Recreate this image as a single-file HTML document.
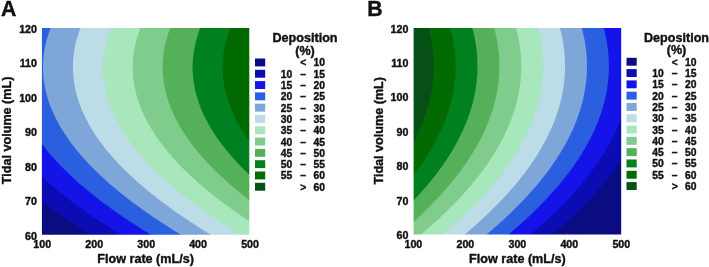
<!DOCTYPE html>
<html><head><meta charset="utf-8"><title>Deposition contour plots</title>
<style>
html,body{margin:0;padding:0;background:#fff;}
body{width:709px;height:267px;overflow:hidden;font-family:"Liberation Sans",sans-serif;}
svg{display:block;will-change:transform;opacity:0.999;}
</style></head><body>
<svg width="709" height="267" viewBox="0 0 709 267" font-family="'Liberation Sans', sans-serif" font-weight="bold" fill="#111">
<rect width="709" height="267" fill="#fff"/>
<g>
<rect x="39.9" y="26.0" width="211.4" height="210.7" fill="#0b0b82"/>
<polygon points="38.9,27.0 38.9,29.6 38.9,32.3 38.9,34.9 38.9,37.6 38.9,40.2 38.9,42.9 38.9,45.5 38.9,48.1 38.9,50.8 38.9,53.4 38.9,56.1 38.9,58.7 38.9,61.3 38.9,64.0 38.9,66.6 38.9,69.3 38.9,71.9 38.9,74.6 38.9,77.2 38.9,79.8 38.9,82.5 38.9,85.1 38.9,87.8 38.9,90.4 38.9,93.0 38.9,95.7 38.9,98.3 38.9,101.0 38.9,103.6 38.9,106.3 38.9,108.9 38.9,111.5 38.9,114.2 38.9,116.8 38.9,119.5 38.9,122.1 38.9,124.7 38.9,127.4 38.9,130.0 38.9,132.7 38.9,135.3 38.9,138.0 38.9,140.6 38.9,143.2 38.9,145.9 38.9,148.5 38.9,151.2 38.9,153.8 38.9,156.4 38.9,159.1 38.9,161.7 38.9,164.4 38.9,167.0 38.9,169.7 38.9,172.3 38.9,174.9 38.9,177.6 38.9,180.2 38.9,182.9 38.9,185.5 38.9,188.1 38.9,190.8 38.9,193.4 38.9,196.1 38.9,198.7 41.5,201.4 45.1,204.0 48.6,206.6 52.3,209.3 56.0,211.9 59.8,214.6 63.7,217.2 67.6,219.8 71.6,222.5 75.7,225.1 79.8,227.8 84.0,230.4 88.3,233.1 92.6,235.7 299.3,235.7 299.3,27.0" fill="#0c0cb4"/>
<polygon points="38.9,27.0 38.9,29.6 38.9,32.3 38.9,34.9 38.9,37.6 38.9,40.2 38.9,42.9 38.9,45.5 38.9,48.1 38.9,50.8 38.9,53.4 38.9,56.1 38.9,58.7 38.9,61.3 38.9,64.0 38.9,66.6 38.9,69.3 38.9,71.9 38.9,74.6 38.9,77.2 38.9,79.8 38.9,82.5 38.9,85.1 38.9,87.8 38.9,90.4 38.9,93.0 38.9,95.7 38.9,98.3 38.9,101.0 38.9,103.6 38.9,106.3 38.9,108.9 38.9,111.5 38.9,114.2 38.9,116.8 38.9,119.5 38.9,122.1 38.9,124.7 38.9,127.4 38.9,130.0 38.9,132.7 38.9,135.3 38.9,138.0 38.9,140.6 38.9,143.2 38.9,145.9 38.9,148.5 38.9,151.2 38.9,153.8 38.9,156.4 38.9,159.1 38.9,161.7 38.9,164.4 38.9,167.0 38.9,169.7 38.9,172.3 40.1,174.9 42.9,177.6 45.8,180.2 48.8,182.9 51.8,185.5 54.9,188.1 58.1,190.8 61.3,193.4 64.6,196.1 68.0,198.7 71.5,201.4 75.0,204.0 78.6,206.6 82.2,209.3 86.0,211.9 89.7,214.6 93.6,217.2 97.5,219.8 101.5,222.5 105.6,225.1 109.7,227.8 113.9,230.4 118.2,233.1 122.5,235.7 299.3,235.7 299.3,27.0" fill="#1414e8"/>
<polygon points="38.9,27.0 38.9,29.6 38.9,32.3 38.9,34.9 38.9,37.6 38.9,40.2 38.9,42.9 38.9,45.5 38.9,48.1 38.9,50.8 38.9,53.4 38.9,56.1 38.9,58.7 38.9,61.3 38.9,64.0 38.9,66.6 38.9,69.3 38.9,71.9 38.9,74.6 38.9,77.2 38.9,79.8 38.9,82.5 38.9,85.1 38.9,87.8 38.9,90.4 38.9,93.0 38.9,95.7 38.9,98.3 38.9,101.0 38.9,103.6 38.9,106.3 38.9,108.9 38.9,111.5 38.9,114.2 38.9,116.8 38.9,119.5 38.9,122.1 38.9,124.7 38.9,127.4 38.9,130.0 38.9,132.7 38.9,135.3 38.9,138.0 39.5,140.6 41.4,143.2 43.4,145.9 45.5,148.5 47.6,151.2 49.8,153.8 52.1,156.4 54.5,159.1 56.9,161.7 59.4,164.4 61.9,167.0 64.6,169.7 67.2,172.3 70.0,174.9 72.8,177.6 75.7,180.2 78.7,182.9 81.7,185.5 84.8,188.1 88.0,190.8 91.3,193.4 94.6,196.1 98.0,198.7 101.4,201.4 104.9,204.0 108.5,206.6 112.2,209.3 115.9,211.9 119.7,214.6 123.5,217.2 127.5,219.8 131.5,222.5 135.5,225.1 139.7,227.8 143.9,230.4 148.1,233.1 152.5,235.7 299.3,235.7 299.3,27.0" fill="#2a60e0"/>
<polygon points="51.0,27.0 49.9,29.6 49.0,32.3 48.1,34.9 47.3,37.6 46.6,40.2 45.9,42.9 45.3,45.5 44.8,48.1 44.3,50.8 43.9,53.4 43.6,56.1 43.3,58.7 43.1,61.3 43.0,64.0 43.0,66.6 43.0,69.3 43.1,71.9 43.2,74.6 43.5,77.2 43.7,79.8 44.1,82.5 44.5,85.1 45.0,87.8 45.6,90.4 46.2,93.0 46.9,95.7 47.7,98.3 48.5,101.0 49.5,103.6 50.4,106.3 51.5,108.9 52.6,111.5 53.8,114.2 55.0,116.8 56.4,119.5 57.7,122.1 59.2,124.7 60.7,127.4 62.3,130.0 64.0,132.7 65.7,135.3 67.5,138.0 69.4,140.6 71.3,143.2 73.3,145.9 75.4,148.5 77.6,151.2 79.8,153.8 82.0,156.4 84.4,159.1 86.8,161.7 89.3,164.4 91.9,167.0 94.5,169.7 97.2,172.3 99.9,174.9 102.8,177.6 105.7,180.2 108.6,182.9 111.7,185.5 114.8,188.1 118.0,190.8 121.2,193.4 124.5,196.1 127.9,198.7 131.3,201.4 134.8,204.0 138.4,206.6 142.1,209.3 145.8,211.9 149.6,214.6 153.5,217.2 157.4,219.8 161.4,222.5 165.5,225.1 169.6,227.8 173.8,230.4 178.1,233.1 182.4,235.7 299.3,235.7 299.3,27.0" fill="#7ea6d8"/>
<polygon points="80.9,27.0 79.9,29.6 78.9,32.3 78.1,34.9 77.3,37.6 76.5,40.2 75.8,42.9 75.2,45.5 74.7,48.1 74.2,50.8 73.9,53.4 73.5,56.1 73.3,58.7 73.1,61.3 73.0,64.0 72.9,66.6 72.9,69.3 73.0,71.9 73.2,74.6 73.4,77.2 73.7,79.8 74.0,82.5 74.5,85.1 75.0,87.8 75.5,90.4 76.2,93.0 76.9,95.7 77.6,98.3 78.5,101.0 79.4,103.6 80.4,106.3 81.4,108.9 82.5,111.5 83.7,114.2 85.0,116.8 86.3,119.5 87.7,122.1 89.1,124.7 90.7,127.4 92.2,130.0 93.9,132.7 95.6,135.3 97.4,138.0 99.3,140.6 101.3,143.2 103.3,145.9 105.3,148.5 107.5,151.2 109.7,153.8 112.0,156.4 114.3,159.1 116.7,161.7 119.2,164.4 121.8,167.0 124.4,169.7 127.1,172.3 129.9,174.9 132.7,177.6 135.6,180.2 138.6,182.9 141.6,185.5 144.7,188.1 147.9,190.8 151.1,193.4 154.4,196.1 157.8,198.7 161.3,201.4 164.8,204.0 168.4,206.6 172.0,209.3 175.7,211.9 179.5,214.6 183.4,217.2 187.3,219.8 191.3,222.5 195.4,225.1 199.5,227.8 203.7,230.4 208.0,233.1 212.3,235.7 299.3,235.7 299.3,27.0" fill="#bcdce8"/>
<polygon points="110.8,27.0 109.8,29.6 108.9,32.3 108.0,34.9 107.2,37.6 106.4,40.2 105.8,42.9 105.2,45.5 104.6,48.1 104.2,50.8 103.8,53.4 103.5,56.1 103.2,58.7 103.0,61.3 102.9,64.0 102.8,66.6 102.9,69.3 102.9,71.9 103.1,74.6 103.3,77.2 103.6,79.8 104.0,82.5 104.4,85.1 104.9,87.8 105.5,90.4 106.1,93.0 106.8,95.7 107.6,98.3 108.4,101.0 109.3,103.6 110.3,106.3 111.3,108.9 112.5,111.5 113.6,114.2 114.9,116.8 116.2,119.5 117.6,122.1 119.1,124.7 120.6,127.4 122.2,130.0 123.8,132.7 125.6,135.3 127.4,138.0 129.2,140.6 131.2,143.2 133.2,145.9 135.3,148.5 137.4,151.2 139.6,153.8 141.9,156.4 144.3,159.1 146.7,161.7 149.2,164.4 151.7,167.0 154.3,169.7 157.0,172.3 159.8,174.9 162.6,177.6 165.5,180.2 168.5,182.9 171.5,185.5 174.6,188.1 177.8,190.8 181.1,193.4 184.4,196.1 187.7,198.7 191.2,201.4 194.7,204.0 198.3,206.6 201.9,209.3 205.7,211.9 209.5,214.6 213.3,217.2 217.3,219.8 221.2,222.5 225.3,225.1 229.4,227.8 233.7,230.4 237.9,233.1 242.3,235.7 299.3,235.7 299.3,27.0" fill="#a8e6bc"/>
<polygon points="140.8,27.0 139.7,29.6 138.8,32.3 137.9,34.9 137.1,37.6 136.4,40.2 135.7,42.9 135.1,45.5 134.6,48.1 134.1,50.8 133.7,53.4 133.4,56.1 133.1,58.7 132.9,61.3 132.8,64.0 132.8,66.6 132.8,69.3 132.9,71.9 133.0,74.6 133.2,77.2 133.5,79.8 133.9,82.5 134.3,85.1 134.8,87.8 135.4,90.4 136.0,93.0 136.7,95.7 137.5,98.3 138.3,101.0 139.2,103.6 140.2,106.3 141.3,108.9 142.4,111.5 143.6,114.2 144.8,116.8 146.1,119.5 147.5,122.1 149.0,124.7 150.5,127.4 152.1,130.0 153.8,132.7 155.5,135.3 157.3,138.0 159.2,140.6 161.1,143.2 163.1,145.9 165.2,148.5 167.3,151.2 169.6,153.8 171.8,156.4 174.2,159.1 176.6,161.7 179.1,164.4 181.6,167.0 184.3,169.7 187.0,172.3 189.7,174.9 192.6,177.6 195.5,180.2 198.4,182.9 201.5,185.5 204.6,188.1 207.7,190.8 211.0,193.4 214.3,196.1 217.7,198.7 221.1,201.4 224.6,204.0 228.2,206.6 231.9,209.3 235.6,211.9 239.4,214.6 243.3,217.2 247.2,219.8 251.2,222.5 255.2,225.1 259.4,227.8 263.6,230.4 267.9,233.1 272.2,235.7 299.3,235.7 299.3,27.0" fill="#80cc8c"/>
<polygon points="170.7,27.0 169.7,29.6 168.7,32.3 167.9,34.9 167.0,37.6 166.3,40.2 165.6,42.9 165.0,45.5 164.5,48.1 164.0,50.8 163.6,53.4 163.3,56.1 163.1,58.7 162.9,61.3 162.7,64.0 162.7,66.6 162.7,69.3 162.8,71.9 163.0,74.6 163.2,77.2 163.5,79.8 163.8,82.5 164.3,85.1 164.8,87.8 165.3,90.4 166.0,93.0 166.7,95.7 167.4,98.3 168.3,101.0 169.2,103.6 170.2,106.3 171.2,108.9 172.3,111.5 173.5,114.2 174.8,116.8 176.1,119.5 177.5,122.1 178.9,124.7 180.4,127.4 182.0,130.0 183.7,132.7 185.4,135.3 187.2,138.0 189.1,140.6 191.0,143.2 193.1,145.9 195.1,148.5 197.3,151.2 199.5,153.8 201.8,156.4 204.1,159.1 206.5,161.7 209.0,164.4 211.6,167.0 214.2,169.7 216.9,172.3 219.7,174.9 222.5,177.6 225.4,180.2 228.4,182.9 231.4,185.5 234.5,188.1 237.7,190.8 240.9,193.4 244.2,196.1 247.6,198.7 251.1,201.4 254.6,204.0 258.2,206.6 261.8,209.3 265.5,211.9 269.3,214.6 273.2,217.2 277.1,219.8 281.1,222.5 285.2,225.1 289.3,227.8 289.3,230.4 289.3,233.1 289.3,235.7 299.3,235.7 299.3,27.0" fill="#55b05a"/>
<polygon points="200.6,27.0 199.6,29.6 198.7,32.3 197.8,34.9 197.0,37.6 196.2,40.2 195.6,42.9 195.0,45.5 194.4,48.1 194.0,50.8 193.6,53.4 193.2,56.1 193.0,58.7 192.8,61.3 192.7,64.0 192.6,66.6 192.6,69.3 192.7,71.9 192.9,74.6 193.1,77.2 193.4,79.8 193.8,82.5 194.2,85.1 194.7,87.8 195.2,90.4 195.9,93.0 196.6,95.7 197.4,98.3 198.2,101.0 199.1,103.6 200.1,106.3 201.1,108.9 202.2,111.5 203.4,114.2 204.7,116.8 206.0,119.5 207.4,122.1 208.8,124.7 210.4,127.4 212.0,130.0 213.6,132.7 215.4,135.3 217.2,138.0 219.0,140.6 221.0,143.2 223.0,145.9 225.1,148.5 227.2,151.2 229.4,153.8 231.7,156.4 234.0,159.1 236.5,161.7 239.0,164.4 241.5,167.0 244.1,169.7 246.8,172.3 249.6,174.9 252.4,177.6 255.3,180.2 258.3,182.9 261.3,185.5 264.4,188.1 267.6,190.8 270.8,193.4 274.2,196.1 277.5,198.7 281.0,201.4 284.5,204.0 288.1,206.6 289.3,209.3 289.3,211.9 289.3,214.6 289.3,217.2 289.3,219.8 289.3,222.5 289.3,225.1 289.3,227.8 289.3,230.4 289.3,233.1 289.3,235.7 299.3,235.7 299.3,27.0" fill="#008020"/>
<polygon points="230.5,27.0 229.5,29.6 228.6,32.3 227.7,34.9 226.9,37.6 226.2,40.2 225.5,42.9 224.9,45.5 224.4,48.1 223.9,50.8 223.5,53.4 223.2,56.1 222.9,58.7 222.7,61.3 222.6,64.0 222.6,66.6 222.6,69.3 222.7,71.9 222.8,74.6 223.0,77.2 223.3,79.8 223.7,82.5 224.1,85.1 224.6,87.8 225.2,90.4 225.8,93.0 226.5,95.7 227.3,98.3 228.1,101.0 229.0,103.6 230.0,106.3 231.1,108.9 232.2,111.5 233.4,114.2 234.6,116.8 235.9,119.5 237.3,122.1 238.8,124.7 240.3,127.4 241.9,130.0 243.6,132.7 245.3,135.3 247.1,138.0 249.0,140.6 250.9,143.2 252.9,145.9 255.0,148.5 257.1,151.2 259.3,153.8 261.6,156.4 264.0,159.1 266.4,161.7 268.9,164.4 271.4,167.0 274.1,169.7 276.8,172.3 279.5,174.9 282.3,177.6 285.2,180.2 288.2,182.9 289.3,185.5 289.3,188.1 289.3,190.8 289.3,193.4 289.3,196.1 289.3,198.7 289.3,201.4 289.3,204.0 289.3,206.6 289.3,209.3 289.3,211.9 289.3,214.6 289.3,217.2 289.3,219.8 289.3,222.5 289.3,225.1 289.3,227.8 289.3,230.4 289.3,233.1 289.3,235.7 299.3,235.7 299.3,27.0" fill="#006a00"/>
<polygon points="260.5,27.0 259.5,29.6 258.5,32.3 257.6,34.9 256.8,37.6 256.1,40.2 255.4,42.9 254.8,45.5 254.3,48.1 253.8,50.8 253.4,53.4 253.1,56.1 252.8,58.7 252.7,61.3 252.5,64.0 252.5,66.6 252.5,69.3 252.6,71.9 252.7,74.6 253.0,77.2 253.3,79.8 253.6,82.5 254.0,85.1 254.5,87.8 255.1,90.4 255.7,93.0 256.4,95.7 257.2,98.3 258.1,101.0 259.0,103.6 259.9,106.3 261.0,108.9 262.1,111.5 263.3,114.2 264.5,116.8 265.9,119.5 267.3,122.1 268.7,124.7 270.2,127.4 271.8,130.0 273.5,132.7 275.2,135.3 277.0,138.0 278.9,140.6 280.8,143.2 282.8,145.9 284.9,148.5 287.1,151.2 289.3,153.8 289.3,156.4 289.3,159.1 289.3,161.7 289.3,164.4 289.3,167.0 289.3,169.7 289.3,172.3 289.3,174.9 289.3,177.6 289.3,180.2 289.3,182.9 289.3,185.5 289.3,188.1 289.3,190.8 289.3,193.4 289.3,196.1 289.3,198.7 289.3,201.4 289.3,204.0 289.3,206.6 289.3,209.3 289.3,211.9 289.3,214.6 289.3,217.2 289.3,219.8 289.3,222.5 289.3,225.1 289.3,227.8 289.3,230.4 289.3,233.1 289.3,235.7 299.3,235.7 299.3,27.0" fill="#065018"/>
<path fill="#fff" fill-rule="evenodd" d="M29.9 20.0H309.3V242.7H29.9Z M41.90 28.00H249.30V234.70H41.90Z"/>
</g>
<g>
<rect x="411.6" y="26.0" width="211.6" height="210.5" fill="#065018"/>
<polygon points="428.2,27.0 428.9,29.6 429.6,32.3 430.2,34.9 430.8,37.6 431.3,40.2 431.7,42.8 432.1,45.5 432.5,48.1 432.8,50.8 433.1,53.4 433.3,56.0 433.5,58.7 433.6,61.3 433.6,63.9 433.7,66.6 433.6,69.2 433.6,71.9 433.4,74.5 433.2,77.1 433.0,79.8 432.7,82.4 432.4,85.1 432.0,87.7 431.6,90.3 431.1,93.0 430.6,95.6 430.0,98.3 429.4,100.9 428.7,103.5 428.0,106.2 427.2,108.8 426.4,111.5 425.5,114.1 424.6,116.7 423.6,119.4 422.6,122.0 421.5,124.7 420.4,127.3 419.3,129.9 418.0,132.6 416.8,135.2 415.5,137.8 414.1,140.5 412.7,143.1 411.2,145.8 410.6,148.4 410.6,151.0 410.6,153.7 410.6,156.3 410.6,159.0 410.6,161.6 410.6,164.2 410.6,166.9 410.6,169.5 410.6,172.2 410.6,174.8 410.6,177.4 410.6,180.1 410.6,182.7 410.6,185.4 410.6,188.0 410.6,190.6 410.6,193.3 410.6,195.9 410.6,198.6 410.6,201.2 410.6,203.8 410.6,206.5 410.6,209.1 410.6,211.7 410.6,214.4 410.6,217.0 410.6,219.7 410.6,222.3 410.6,224.9 410.6,227.6 410.6,230.2 410.6,232.9 410.6,235.5 671.2,235.5 671.2,27.0" fill="#006a00"/>
<polygon points="450.1,27.0 450.8,29.6 451.5,32.3 452.1,34.9 452.7,37.6 453.2,40.2 453.6,42.8 454.0,45.5 454.4,48.1 454.7,50.8 455.0,53.4 455.2,56.0 455.4,58.7 455.5,61.3 455.5,63.9 455.6,66.6 455.5,69.2 455.5,71.9 455.3,74.5 455.1,77.1 454.9,79.8 454.6,82.4 454.3,85.1 453.9,87.7 453.5,90.3 453.0,93.0 452.5,95.6 451.9,98.3 451.3,100.9 450.6,103.5 449.9,106.2 449.1,108.8 448.3,111.5 447.4,114.1 446.5,116.7 445.5,119.4 444.5,122.0 443.4,124.7 442.3,127.3 441.2,129.9 439.9,132.6 438.7,135.2 437.4,137.8 436.0,140.5 434.6,143.1 433.1,145.8 431.6,148.4 430.0,151.0 428.4,153.7 426.8,156.3 425.1,159.0 423.3,161.6 421.5,164.2 419.6,166.9 417.7,169.5 415.8,172.2 413.8,174.8 411.7,177.4 410.6,180.1 410.6,182.7 410.6,185.4 410.6,188.0 410.6,190.6 410.6,193.3 410.6,195.9 410.6,198.6 410.6,201.2 410.6,203.8 410.6,206.5 410.6,209.1 410.6,211.7 410.6,214.4 410.6,217.0 410.6,219.7 410.6,222.3 410.6,224.9 410.6,227.6 410.6,230.2 410.6,232.9 410.6,235.5 671.2,235.5 671.2,27.0" fill="#008020"/>
<polygon points="472.0,27.0 472.7,29.6 473.4,32.3 474.0,34.9 474.6,37.6 475.1,40.2 475.5,42.8 475.9,45.5 476.3,48.1 476.6,50.8 476.9,53.4 477.1,56.0 477.3,58.7 477.4,61.3 477.4,63.9 477.5,66.6 477.4,69.2 477.4,71.9 477.2,74.5 477.0,77.1 476.8,79.8 476.5,82.4 476.2,85.1 475.8,87.7 475.4,90.3 474.9,93.0 474.4,95.6 473.8,98.3 473.2,100.9 472.5,103.5 471.8,106.2 471.0,108.8 470.2,111.5 469.3,114.1 468.4,116.7 467.4,119.4 466.4,122.0 465.3,124.7 464.2,127.3 463.1,129.9 461.8,132.6 460.6,135.2 459.3,137.8 457.9,140.5 456.5,143.1 455.0,145.8 453.5,148.4 451.9,151.0 450.3,153.7 448.7,156.3 447.0,159.0 445.2,161.6 443.4,164.2 441.5,166.9 439.6,169.5 437.7,172.2 435.7,174.8 433.6,177.4 431.5,180.1 429.3,182.7 427.1,185.4 424.9,188.0 422.6,190.6 420.2,193.3 417.8,195.9 415.4,198.6 412.9,201.2 410.6,203.8 410.6,206.5 410.6,209.1 410.6,211.7 410.6,214.4 410.6,217.0 410.6,219.7 410.6,222.3 410.6,224.9 410.6,227.6 410.6,230.2 410.6,232.9 410.6,235.5 671.2,235.5 671.2,27.0" fill="#55b05a"/>
<polygon points="493.9,27.0 494.6,29.6 495.3,32.3 495.9,34.9 496.5,37.6 497.0,40.2 497.4,42.8 497.8,45.5 498.2,48.1 498.5,50.8 498.8,53.4 499.0,56.0 499.2,58.7 499.3,61.3 499.3,63.9 499.4,66.6 499.3,69.2 499.3,71.9 499.1,74.5 498.9,77.1 498.7,79.8 498.4,82.4 498.1,85.1 497.7,87.7 497.3,90.3 496.8,93.0 496.3,95.6 495.7,98.3 495.1,100.9 494.4,103.5 493.7,106.2 492.9,108.8 492.1,111.5 491.2,114.1 490.3,116.7 489.3,119.4 488.3,122.0 487.2,124.7 486.1,127.3 485.0,129.9 483.7,132.6 482.5,135.2 481.2,137.8 479.8,140.5 478.4,143.1 476.9,145.8 475.4,148.4 473.8,151.0 472.2,153.7 470.6,156.3 468.9,159.0 467.1,161.6 465.3,164.2 463.4,166.9 461.5,169.5 459.6,172.2 457.6,174.8 455.5,177.4 453.4,180.1 451.2,182.7 449.0,185.4 446.8,188.0 444.5,190.6 442.1,193.3 439.7,195.9 437.3,198.6 434.8,201.2 432.2,203.8 429.6,206.5 427.0,209.1 424.3,211.7 421.5,214.4 418.7,217.0 415.9,219.7 413.0,222.3 410.6,224.9 410.6,227.6 410.6,230.2 410.6,232.9 410.6,235.5 671.2,235.5 671.2,27.0" fill="#80cc8c"/>
<polygon points="515.8,27.0 516.5,29.6 517.2,32.3 517.8,34.9 518.4,37.6 518.9,40.2 519.3,42.8 519.7,45.5 520.1,48.1 520.4,50.8 520.7,53.4 520.9,56.0 521.1,58.7 521.2,61.3 521.2,63.9 521.3,66.6 521.2,69.2 521.2,71.9 521.0,74.5 520.8,77.1 520.6,79.8 520.3,82.4 520.0,85.1 519.6,87.7 519.2,90.3 518.7,93.0 518.2,95.6 517.6,98.3 517.0,100.9 516.3,103.5 515.6,106.2 514.8,108.8 514.0,111.5 513.1,114.1 512.2,116.7 511.2,119.4 510.2,122.0 509.1,124.7 508.0,127.3 506.9,129.9 505.6,132.6 504.4,135.2 503.1,137.8 501.7,140.5 500.3,143.1 498.8,145.8 497.3,148.4 495.7,151.0 494.1,153.7 492.5,156.3 490.8,159.0 489.0,161.6 487.2,164.2 485.3,166.9 483.4,169.5 481.5,172.2 479.5,174.8 477.4,177.4 475.3,180.1 473.1,182.7 470.9,185.4 468.7,188.0 466.4,190.6 464.0,193.3 461.6,195.9 459.2,198.6 456.7,201.2 454.1,203.8 451.5,206.5 448.9,209.1 446.2,211.7 443.4,214.4 440.6,217.0 437.8,219.7 434.9,222.3 432.0,224.9 429.0,227.6 425.9,230.2 422.8,232.9 419.7,235.5 671.2,235.5 671.2,27.0" fill="#a8e6bc"/>
<polygon points="537.7,27.0 538.4,29.6 539.1,32.3 539.7,34.9 540.3,37.6 540.8,40.2 541.2,42.8 541.6,45.5 542.0,48.1 542.3,50.8 542.6,53.4 542.8,56.0 543.0,58.7 543.1,61.3 543.1,63.9 543.2,66.6 543.1,69.2 543.1,71.9 542.9,74.5 542.7,77.1 542.5,79.8 542.2,82.4 541.9,85.1 541.5,87.7 541.1,90.3 540.6,93.0 540.1,95.6 539.5,98.3 538.9,100.9 538.2,103.5 537.5,106.2 536.7,108.8 535.9,111.5 535.0,114.1 534.1,116.7 533.1,119.4 532.1,122.0 531.0,124.7 529.9,127.3 528.8,129.9 527.5,132.6 526.3,135.2 525.0,137.8 523.6,140.5 522.2,143.1 520.7,145.8 519.2,148.4 517.6,151.0 516.0,153.7 514.4,156.3 512.7,159.0 510.9,161.6 509.1,164.2 507.2,166.9 505.3,169.5 503.4,172.2 501.4,174.8 499.3,177.4 497.2,180.1 495.0,182.7 492.8,185.4 490.6,188.0 488.3,190.6 485.9,193.3 483.5,195.9 481.1,198.6 478.6,201.2 476.0,203.8 473.4,206.5 470.8,209.1 468.1,211.7 465.3,214.4 462.5,217.0 459.7,219.7 456.8,222.3 453.9,224.9 450.9,227.6 447.8,230.2 444.7,232.9 441.6,235.5 671.2,235.5 671.2,27.0" fill="#bcdce8"/>
<polygon points="559.6,27.0 560.3,29.6 561.0,32.3 561.6,34.9 562.2,37.6 562.7,40.2 563.1,42.8 563.5,45.5 563.9,48.1 564.2,50.8 564.5,53.4 564.7,56.0 564.9,58.7 565.0,61.3 565.0,63.9 565.1,66.6 565.0,69.2 565.0,71.9 564.8,74.5 564.6,77.1 564.4,79.8 564.1,82.4 563.8,85.1 563.4,87.7 563.0,90.3 562.5,93.0 562.0,95.6 561.4,98.3 560.8,100.9 560.1,103.5 559.4,106.2 558.6,108.8 557.8,111.5 556.9,114.1 556.0,116.7 555.0,119.4 554.0,122.0 552.9,124.7 551.8,127.3 550.7,129.9 549.4,132.6 548.2,135.2 546.9,137.8 545.5,140.5 544.1,143.1 542.6,145.8 541.1,148.4 539.5,151.0 537.9,153.7 536.3,156.3 534.6,159.0 532.8,161.6 531.0,164.2 529.1,166.9 527.2,169.5 525.3,172.2 523.3,174.8 521.2,177.4 519.1,180.1 516.9,182.7 514.7,185.4 512.5,188.0 510.2,190.6 507.8,193.3 505.4,195.9 503.0,198.6 500.5,201.2 497.9,203.8 495.3,206.5 492.7,209.1 490.0,211.7 487.2,214.4 484.4,217.0 481.6,219.7 478.7,222.3 475.8,224.9 472.8,227.6 469.7,230.2 466.6,232.9 463.5,235.5 671.2,235.5 671.2,27.0" fill="#7ea6d8"/>
<polygon points="581.5,27.0 582.2,29.6 582.9,32.3 583.5,34.9 584.1,37.6 584.6,40.2 585.0,42.8 585.4,45.5 585.8,48.1 586.1,50.8 586.4,53.4 586.6,56.0 586.8,58.7 586.9,61.3 586.9,63.9 587.0,66.6 586.9,69.2 586.9,71.9 586.7,74.5 586.5,77.1 586.3,79.8 586.0,82.4 585.7,85.1 585.3,87.7 584.9,90.3 584.4,93.0 583.9,95.6 583.3,98.3 582.7,100.9 582.0,103.5 581.3,106.2 580.5,108.8 579.7,111.5 578.8,114.1 577.9,116.7 576.9,119.4 575.9,122.0 574.8,124.7 573.7,127.3 572.6,129.9 571.3,132.6 570.1,135.2 568.8,137.8 567.4,140.5 566.0,143.1 564.5,145.8 563.0,148.4 561.4,151.0 559.8,153.7 558.2,156.3 556.5,159.0 554.7,161.6 552.9,164.2 551.0,166.9 549.1,169.5 547.2,172.2 545.2,174.8 543.1,177.4 541.0,180.1 538.8,182.7 536.6,185.4 534.4,188.0 532.1,190.6 529.7,193.3 527.3,195.9 524.9,198.6 522.4,201.2 519.8,203.8 517.2,206.5 514.6,209.1 511.9,211.7 509.1,214.4 506.3,217.0 503.5,219.7 500.6,222.3 497.7,224.9 494.7,227.6 491.6,230.2 488.5,232.9 485.4,235.5 671.2,235.5 671.2,27.0" fill="#2a60e0"/>
<polygon points="603.4,27.0 604.1,29.6 604.8,32.3 605.4,34.9 606.0,37.6 606.5,40.2 606.9,42.8 607.3,45.5 607.7,48.1 608.0,50.8 608.3,53.4 608.5,56.0 608.7,58.7 608.8,61.3 608.8,63.9 608.9,66.6 608.8,69.2 608.8,71.9 608.6,74.5 608.4,77.1 608.2,79.8 607.9,82.4 607.6,85.1 607.2,87.7 606.8,90.3 606.3,93.0 605.8,95.6 605.2,98.3 604.6,100.9 603.9,103.5 603.2,106.2 602.4,108.8 601.6,111.5 600.7,114.1 599.8,116.7 598.8,119.4 597.8,122.0 596.7,124.7 595.6,127.3 594.5,129.9 593.2,132.6 592.0,135.2 590.7,137.8 589.3,140.5 587.9,143.1 586.4,145.8 584.9,148.4 583.3,151.0 581.7,153.7 580.1,156.3 578.4,159.0 576.6,161.6 574.8,164.2 572.9,166.9 571.0,169.5 569.1,172.2 567.1,174.8 565.0,177.4 562.9,180.1 560.7,182.7 558.5,185.4 556.3,188.0 554.0,190.6 551.6,193.3 549.2,195.9 546.8,198.6 544.3,201.2 541.7,203.8 539.1,206.5 536.5,209.1 533.8,211.7 531.0,214.4 528.2,217.0 525.4,219.7 522.5,222.3 519.6,224.9 516.6,227.6 513.5,230.2 510.4,232.9 507.3,235.5 671.2,235.5 671.2,27.0" fill="#1414e8"/>
<polygon points="625.3,27.0 626.0,29.6 626.7,32.3 627.3,34.9 627.9,37.6 628.4,40.2 628.8,42.8 629.2,45.5 629.6,48.1 629.9,50.8 630.2,53.4 630.4,56.0 630.6,58.7 630.7,61.3 630.7,63.9 630.8,66.6 630.7,69.2 630.7,71.9 630.5,74.5 630.3,77.1 630.1,79.8 629.8,82.4 629.5,85.1 629.1,87.7 628.7,90.3 628.2,93.0 627.7,95.6 627.1,98.3 626.5,100.9 625.8,103.5 625.1,106.2 624.3,108.8 623.5,111.5 622.6,114.1 621.7,116.7 620.7,119.4 619.7,122.0 618.6,124.7 617.5,127.3 616.4,129.9 615.1,132.6 613.9,135.2 612.6,137.8 611.2,140.5 609.8,143.1 608.3,145.8 606.8,148.4 605.2,151.0 603.6,153.7 602.0,156.3 600.3,159.0 598.5,161.6 596.7,164.2 594.8,166.9 592.9,169.5 591.0,172.2 589.0,174.8 586.9,177.4 584.8,180.1 582.6,182.7 580.4,185.4 578.2,188.0 575.9,190.6 573.5,193.3 571.1,195.9 568.7,198.6 566.2,201.2 563.6,203.8 561.0,206.5 558.4,209.1 555.7,211.7 552.9,214.4 550.1,217.0 547.3,219.7 544.4,222.3 541.5,224.9 538.5,227.6 535.4,230.2 532.3,232.9 529.2,235.5 671.2,235.5 671.2,27.0" fill="#0c0cb4"/>
<polygon points="647.2,27.0 647.9,29.6 648.6,32.3 649.2,34.9 649.8,37.6 650.3,40.2 650.7,42.8 651.1,45.5 651.5,48.1 651.8,50.8 652.1,53.4 652.3,56.0 652.5,58.7 652.6,61.3 652.6,63.9 652.7,66.6 652.6,69.2 652.6,71.9 652.4,74.5 652.2,77.1 652.0,79.8 651.7,82.4 651.4,85.1 651.0,87.7 650.6,90.3 650.1,93.0 649.6,95.6 649.0,98.3 648.4,100.9 647.7,103.5 647.0,106.2 646.2,108.8 645.4,111.5 644.5,114.1 643.6,116.7 642.6,119.4 641.6,122.0 640.5,124.7 639.4,127.3 638.3,129.9 637.0,132.6 635.8,135.2 634.5,137.8 633.1,140.5 631.7,143.1 630.2,145.8 628.7,148.4 627.1,151.0 625.5,153.7 623.9,156.3 622.2,159.0 620.4,161.6 618.6,164.2 616.7,166.9 614.8,169.5 612.9,172.2 610.9,174.8 608.8,177.4 606.7,180.1 604.5,182.7 602.3,185.4 600.1,188.0 597.8,190.6 595.4,193.3 593.0,195.9 590.6,198.6 588.1,201.2 585.5,203.8 582.9,206.5 580.3,209.1 577.6,211.7 574.8,214.4 572.0,217.0 569.2,219.7 566.3,222.3 563.4,224.9 560.4,227.6 557.3,230.2 554.2,232.9 551.1,235.5 671.2,235.5 671.2,27.0" fill="#0b0b82"/>
<path fill="#fff" fill-rule="evenodd" d="M401.6 20.0H681.2V242.5H401.6Z M413.60 28.00H621.20V234.50H413.60Z"/>
</g>
<g stroke="#111" stroke-width="0.4" stroke-linejoin="round">
<text x="1.0" y="15.9" font-size="21.2" >A</text>
<text x="37.0" y="239.5" font-size="10.7" text-anchor="end">60</text>
<text x="37.0" y="205.1" font-size="10.7" text-anchor="end">70</text>
<text x="37.0" y="170.6" font-size="10.7" text-anchor="end">80</text>
<text x="37.0" y="136.2" font-size="10.7" text-anchor="end">90</text>
<text x="37.0" y="101.7" font-size="10.7" text-anchor="end">100</text>
<text x="37.0" y="67.2" font-size="10.7" text-anchor="end">110</text>
<text x="37.0" y="32.8" font-size="10.7" text-anchor="end">120</text>
<text x="42.2" y="247.8" font-size="10.7" text-anchor="middle">100</text>
<text x="94.2" y="247.8" font-size="10.7" text-anchor="middle">200</text>
<text x="146.2" y="247.8" font-size="10.7" text-anchor="middle">300</text>
<text x="198.1" y="247.8" font-size="10.7" text-anchor="middle">400</text>
<text x="250.1" y="247.8" font-size="10.7" text-anchor="middle">500</text>
<text x="145.6" y="263.4" font-size="12.6" text-anchor="middle">Flow rate (mL/s)</text>
<text transform="translate(10.5,130.4) rotate(-90)" font-size="12.6" text-anchor="middle">Tidal volume (mL)</text>
<text x="367.3" y="15.9" font-size="21.2" >B</text>
<text x="408.4" y="239.1" font-size="10.7" text-anchor="end">60</text>
<text x="408.4" y="204.7" font-size="10.7" text-anchor="end">70</text>
<text x="408.4" y="170.3" font-size="10.7" text-anchor="end">80</text>
<text x="408.4" y="135.8" font-size="10.7" text-anchor="end">90</text>
<text x="408.4" y="101.4" font-size="10.7" text-anchor="end">100</text>
<text x="408.4" y="67.0" font-size="10.7" text-anchor="end">110</text>
<text x="408.4" y="32.6" font-size="10.7" text-anchor="end">120</text>
<text x="413.4" y="247.6" font-size="10.7" text-anchor="middle">100</text>
<text x="465.4" y="247.6" font-size="10.7" text-anchor="middle">200</text>
<text x="517.4" y="247.6" font-size="10.7" text-anchor="middle">300</text>
<text x="569.3" y="247.6" font-size="10.7" text-anchor="middle">400</text>
<text x="621.3" y="247.6" font-size="10.7" text-anchor="middle">500</text>
<text x="517.4" y="263.1" font-size="12.6" text-anchor="middle">Flow rate (mL/s)</text>
<text transform="translate(382.6,130.8) rotate(-90)" font-size="12.6" text-anchor="middle">Tidal volume (mL)</text>
<text x="305.0" y="42.4" font-size="12.6" text-anchor="middle">Deposition</text>
<text x="305.0" y="54.9" font-size="12.6" text-anchor="middle">(%)</text>
<rect x="255.0" y="58.5" width="10.2" height="7.9" fill="#0b0b82" stroke="none"/>
<text x="303.2" y="66.4" font-size="10.3" text-anchor="middle"><</text>
<text x="324.9" y="66.4" font-size="10.3" text-anchor="end">10</text>
<rect x="255.0" y="69.8" width="10.2" height="7.9" fill="#0c0cb4" stroke="none"/>
<text x="292.2" y="77.7" font-size="10.3" text-anchor="end">10</text>
<text x="303.2" y="77.7" font-size="10.3" text-anchor="middle">–</text>
<text x="324.9" y="77.7" font-size="10.3" text-anchor="end">15</text>
<rect x="255.0" y="81.1" width="10.2" height="7.9" fill="#1414e8" stroke="none"/>
<text x="292.2" y="89.0" font-size="10.3" text-anchor="end">15</text>
<text x="303.2" y="89.0" font-size="10.3" text-anchor="middle">–</text>
<text x="324.9" y="89.0" font-size="10.3" text-anchor="end">20</text>
<rect x="255.0" y="92.4" width="10.2" height="7.9" fill="#2a60e0" stroke="none"/>
<text x="292.2" y="100.3" font-size="10.3" text-anchor="end">20</text>
<text x="303.2" y="100.3" font-size="10.3" text-anchor="middle">–</text>
<text x="324.9" y="100.3" font-size="10.3" text-anchor="end">25</text>
<rect x="255.0" y="103.7" width="10.2" height="7.9" fill="#7ea6d8" stroke="none"/>
<text x="292.2" y="111.6" font-size="10.3" text-anchor="end">25</text>
<text x="303.2" y="111.6" font-size="10.3" text-anchor="middle">–</text>
<text x="324.9" y="111.6" font-size="10.3" text-anchor="end">30</text>
<rect x="255.0" y="115.0" width="10.2" height="7.9" fill="#bcdce8" stroke="none"/>
<text x="292.2" y="122.9" font-size="10.3" text-anchor="end">30</text>
<text x="303.2" y="122.9" font-size="10.3" text-anchor="middle">–</text>
<text x="324.9" y="122.9" font-size="10.3" text-anchor="end">35</text>
<rect x="255.0" y="126.3" width="10.2" height="7.9" fill="#a8e6bc" stroke="none"/>
<text x="292.2" y="134.2" font-size="10.3" text-anchor="end">35</text>
<text x="303.2" y="134.2" font-size="10.3" text-anchor="middle">–</text>
<text x="324.9" y="134.2" font-size="10.3" text-anchor="end">40</text>
<rect x="255.0" y="137.6" width="10.2" height="7.9" fill="#80cc8c" stroke="none"/>
<text x="292.2" y="145.5" font-size="10.3" text-anchor="end">40</text>
<text x="303.2" y="145.5" font-size="10.3" text-anchor="middle">–</text>
<text x="324.9" y="145.5" font-size="10.3" text-anchor="end">45</text>
<rect x="255.0" y="148.9" width="10.2" height="7.9" fill="#55b05a" stroke="none"/>
<text x="292.2" y="156.8" font-size="10.3" text-anchor="end">45</text>
<text x="303.2" y="156.8" font-size="10.3" text-anchor="middle">–</text>
<text x="324.9" y="156.8" font-size="10.3" text-anchor="end">50</text>
<rect x="255.0" y="160.2" width="10.2" height="7.9" fill="#008020" stroke="none"/>
<text x="292.2" y="168.1" font-size="10.3" text-anchor="end">50</text>
<text x="303.2" y="168.1" font-size="10.3" text-anchor="middle">–</text>
<text x="324.9" y="168.1" font-size="10.3" text-anchor="end">55</text>
<rect x="255.0" y="171.5" width="10.2" height="7.9" fill="#006a00" stroke="none"/>
<text x="292.2" y="179.4" font-size="10.3" text-anchor="end">55</text>
<text x="303.2" y="179.4" font-size="10.3" text-anchor="middle">–</text>
<text x="324.9" y="179.4" font-size="10.3" text-anchor="end">60</text>
<rect x="255.0" y="182.8" width="10.2" height="7.9" fill="#065018" stroke="none"/>
<text x="303.2" y="190.7" font-size="10.3" text-anchor="middle">></text>
<text x="324.9" y="190.7" font-size="10.3" text-anchor="end">60</text>
<text x="676.5" y="41.7" font-size="12.6" text-anchor="middle">Deposition</text>
<text x="676.5" y="54.2" font-size="12.6" text-anchor="middle">(%)</text>
<rect x="626.5" y="57.8" width="10.2" height="7.9" fill="#0b0b82" stroke="none"/>
<text x="674.7" y="65.7" font-size="10.3" text-anchor="middle"><</text>
<text x="696.4" y="65.7" font-size="10.3" text-anchor="end">10</text>
<rect x="626.5" y="69.1" width="10.2" height="7.9" fill="#0c0cb4" stroke="none"/>
<text x="663.7" y="77.0" font-size="10.3" text-anchor="end">10</text>
<text x="674.7" y="77.0" font-size="10.3" text-anchor="middle">–</text>
<text x="696.4" y="77.0" font-size="10.3" text-anchor="end">15</text>
<rect x="626.5" y="80.4" width="10.2" height="7.9" fill="#1414e8" stroke="none"/>
<text x="663.7" y="88.3" font-size="10.3" text-anchor="end">15</text>
<text x="674.7" y="88.3" font-size="10.3" text-anchor="middle">–</text>
<text x="696.4" y="88.3" font-size="10.3" text-anchor="end">20</text>
<rect x="626.5" y="91.7" width="10.2" height="7.9" fill="#2a60e0" stroke="none"/>
<text x="663.7" y="99.6" font-size="10.3" text-anchor="end">20</text>
<text x="674.7" y="99.6" font-size="10.3" text-anchor="middle">–</text>
<text x="696.4" y="99.6" font-size="10.3" text-anchor="end">25</text>
<rect x="626.5" y="103.0" width="10.2" height="7.9" fill="#7ea6d8" stroke="none"/>
<text x="663.7" y="110.9" font-size="10.3" text-anchor="end">25</text>
<text x="674.7" y="110.9" font-size="10.3" text-anchor="middle">–</text>
<text x="696.4" y="110.9" font-size="10.3" text-anchor="end">30</text>
<rect x="626.5" y="114.3" width="10.2" height="7.9" fill="#bcdce8" stroke="none"/>
<text x="663.7" y="122.2" font-size="10.3" text-anchor="end">30</text>
<text x="674.7" y="122.2" font-size="10.3" text-anchor="middle">–</text>
<text x="696.4" y="122.2" font-size="10.3" text-anchor="end">35</text>
<rect x="626.5" y="125.6" width="10.2" height="7.9" fill="#a8e6bc" stroke="none"/>
<text x="663.7" y="133.5" font-size="10.3" text-anchor="end">35</text>
<text x="674.7" y="133.5" font-size="10.3" text-anchor="middle">–</text>
<text x="696.4" y="133.5" font-size="10.3" text-anchor="end">40</text>
<rect x="626.5" y="136.9" width="10.2" height="7.9" fill="#80cc8c" stroke="none"/>
<text x="663.7" y="144.8" font-size="10.3" text-anchor="end">40</text>
<text x="674.7" y="144.8" font-size="10.3" text-anchor="middle">–</text>
<text x="696.4" y="144.8" font-size="10.3" text-anchor="end">45</text>
<rect x="626.5" y="148.2" width="10.2" height="7.9" fill="#55b05a" stroke="none"/>
<text x="663.7" y="156.1" font-size="10.3" text-anchor="end">45</text>
<text x="674.7" y="156.1" font-size="10.3" text-anchor="middle">–</text>
<text x="696.4" y="156.1" font-size="10.3" text-anchor="end">50</text>
<rect x="626.5" y="159.5" width="10.2" height="7.9" fill="#008020" stroke="none"/>
<text x="663.7" y="167.4" font-size="10.3" text-anchor="end">50</text>
<text x="674.7" y="167.4" font-size="10.3" text-anchor="middle">–</text>
<text x="696.4" y="167.4" font-size="10.3" text-anchor="end">55</text>
<rect x="626.5" y="170.8" width="10.2" height="7.9" fill="#006a00" stroke="none"/>
<text x="663.7" y="178.7" font-size="10.3" text-anchor="end">55</text>
<text x="674.7" y="178.7" font-size="10.3" text-anchor="middle">–</text>
<text x="696.4" y="178.7" font-size="10.3" text-anchor="end">60</text>
<rect x="626.5" y="182.1" width="10.2" height="7.9" fill="#065018" stroke="none"/>
<text x="674.7" y="190.0" font-size="10.3" text-anchor="middle">></text>
<text x="696.4" y="190.0" font-size="10.3" text-anchor="end">60</text>
</g>
</svg>
</body></html>
